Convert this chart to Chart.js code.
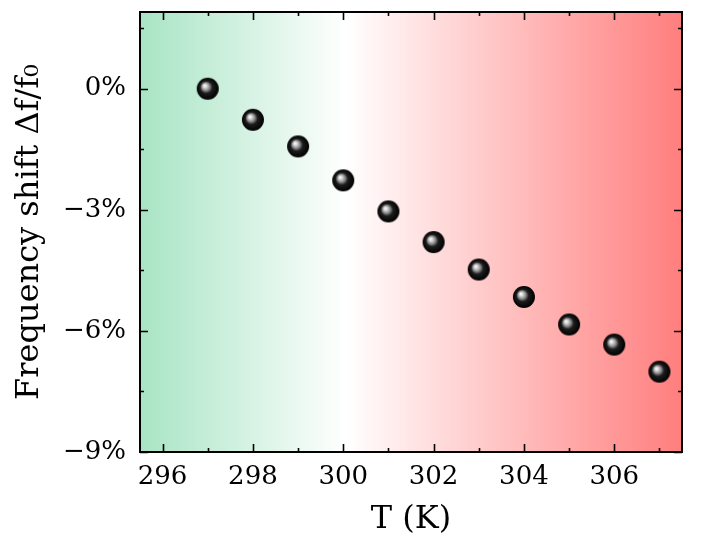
<!DOCTYPE html>
<html>
<head>
<meta charset="utf-8">
<script src="https://cdn.jsdelivr.net/npm/chart.js@4"></script>
<style>
  html, body { margin: 0; padding: 0; background: #fff; }
  #wrap { width: 711px; height: 544px; }
</style>
</head>
<body>
<div id="wrap"><canvas id="chartShift" width="711" height="544"></canvas></div>
<script>
// data
const temps = [297, 298, 299, 300, 301, 302, 303, 304, 305, 306, 307];
const shifts = [0.0, -0.77, -1.43, -2.27, -3.04, -3.80, -4.48, -5.16, -5.84, -6.34, -7.01];
const xTicks = [296, 298, 300, 302, 304, 306];
const yTicks = [0, -3, -6, -9];

// shiny black sphere used as point marker
function makeBall(r) {
    const c = document.createElement('canvas');
    const s = r * 2 + 2;
    c.width = s; c.height = s;
    const g = c.getContext('2d');
    const cx = s / 2, cy = s / 2;
    const grad = g.createRadialGradient(cx - r * 0.3, cy - r * 0.3, 0, cx, cy, r);
    grad.addColorStop(0, '#ffffff');
    grad.addColorStop(0.14, '#e0e0e0');
    grad.addColorStop(0.36, '#8a8a8a');
    grad.addColorStop(0.56, '#1c1c1c');
    grad.addColorStop(1, '#000000');
    g.beginPath();
    g.arc(cx, cy, r, 0, Math.PI * 2);
    g.fillStyle = grad;
    g.fill();
    return c;
}
const ball = makeBall(11);

const bgAndFrame = {
    id: 'bgAndFrame',
    beforeDatasetsDraw(chart) {
        const { ctx, chartArea: a } = chart;
        const grad = ctx.createLinearGradient(a.left, 0, a.right, 0);
        grad.addColorStop(0, 'rgb(168,228,196)');
        grad.addColorStop(0.38, 'rgb(255,255,255)');
        grad.addColorStop(1, 'rgb(255,126,126)');
        ctx.save();
        ctx.fillStyle = grad;
        ctx.fillRect(a.left, a.top, a.right - a.left, a.bottom - a.top);
        ctx.restore();
    },
    afterDraw(chart) {
        const { ctx, chartArea: a, scales } = chart;
        const xs = scales.x, ys = scales.y;
        ctx.save();
        ctx.strokeStyle = '#000';
        ctx.lineWidth = 1.6;
        ctx.beginPath();
        // x ticks, major + minor, bottom and top, pointing inward
        for (let v = 296; v <= 307; v += 1) {
            const px = Math.round(xs.getPixelForValue(v)) + 0.5;
            const len = (v % 2 === 0) ? 8 : 4;
            ctx.moveTo(px, a.bottom); ctx.lineTo(px, a.bottom - len);
            ctx.moveTo(px, a.top); ctx.lineTo(px, a.top + len);
        }
        for (let v = -9; v <= 1.5; v += 1.5) {
            const py = Math.round(ys.getPixelForValue(v)) + 0.5;
            const len = (v % 3 === 0) ? 8 : 4;
            ctx.moveTo(a.left, py); ctx.lineTo(a.left + len, py);
            ctx.moveTo(a.right, py); ctx.lineTo(a.right - len, py);
        }
        ctx.stroke();
        ctx.lineWidth = 2;
        ctx.strokeRect(a.left, a.top, a.right - a.left, a.bottom - a.top);
        ctx.restore();
    }
};

const serif = "'DejaVu Serif', 'Liberation Serif', serif";

const ctxShift = document.getElementById('chartShift').getContext('2d');
const chart = new Chart(ctxShift, {
    type: 'scatter',
    data: {
        datasets: [{
            label: 'Frequency shift',
            data: temps.map((t, i) => ({ x: t, y: shifts[i] })),
            pointStyle: ball,
            pointRadius: 11,
            pointHoverRadius: 11
        }]
    },
    options: {
        responsive: false,
        animation: false,
        layout: { padding: { top: 12, right: 29, left: 0, bottom: 0 } },
        plugins: {
            legend: { display: false },
            tooltip: { enabled: false }
        },
        scales: {
            x: {
                type: 'linear',
                min: 295.5,
                max: 307.5,
                grid: { display: false },
                border: { display: false },
                afterBuildTicks: s => { s.ticks = xTicks.map(v => ({ value: v })); },
                afterFit: s => { s.height = 92; s.paddingLeft = 0; s.paddingRight = 0; },
                ticks: {
                    padding: 2,
                    color: '#000',
                    font: { family: serif, size: 26 },
                    callback: v => String(v)
                },
                title: {
                    display: true,
                    text: 'T (K)',
                    color: '#000',
                    font: { family: serif, size: 32 },
                    padding: { top: 0, bottom: 5 }
                }
            },
            y: {
                min: -9,
                max: 1.9,
                grid: { display: false },
                border: { display: false },
                afterBuildTicks: s => { s.ticks = yTicks.map(v => ({ value: v })); },
                afterFit: s => { s.width = 140; s.paddingTop = 0; s.paddingBottom = 0; },
                ticks: {
                    padding: 6,
                    color: '#000',
                    font: { family: serif, size: 26 },
                    callback: v => (v < 0 ? '\u2212' + Math.abs(v) : String(v)) + '%'
                },
                title: {
                    display: true,
                    text: 'Frequency shift \u0394f/f\u2080',
                    color: '#000',
                    font: { family: serif, size: 32 },
                    padding: { top: 10, bottom: 0 }
                }
            }
        }
    },
    plugins: [bgAndFrame]
});
</script>
</body>
</html>
